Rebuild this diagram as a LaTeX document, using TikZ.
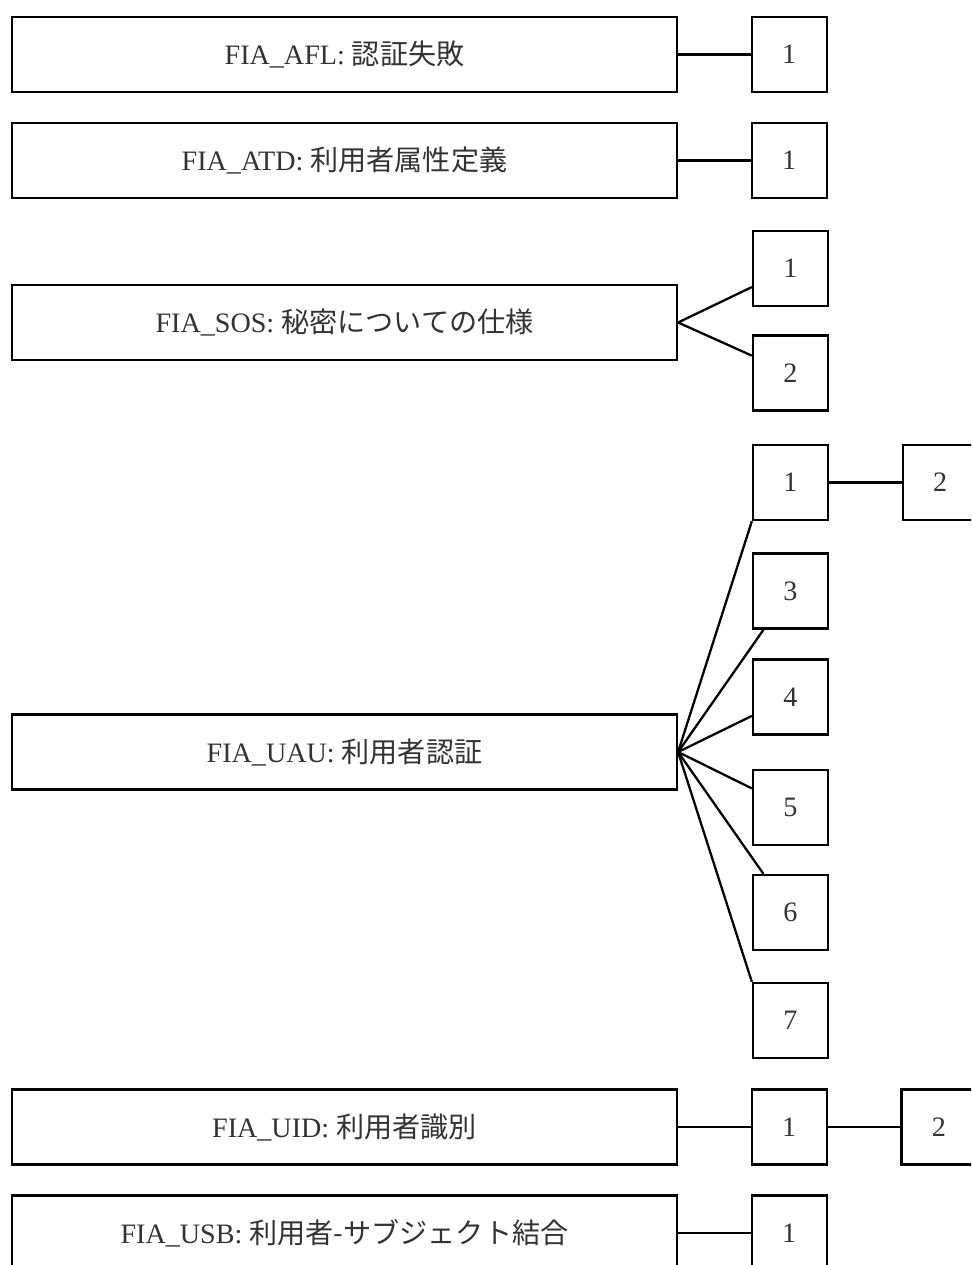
\documentclass[tikz,border=0pt]{standalone}
\usepackage{fontspec}
\setmainfont{Liberation Serif}
\newfontfamily\jp{Noto Sans CJK JP}
\usetikzlibrary{positioning}

\begin{document}
\begin{tikzpicture}[
    x=0.02cm, y=-0.02cm,
    family/.style={draw, line width=1.3pt, minimum width=13.3cm, minimum height=1.5cm,
      inner sep=0pt, text=black!80, font=\fontsize{16}{19}\selectfont},
    comp/.style={draw, line width=1.3pt, minimum width=1.5cm, minimum height=1.5cm,
      inner sep=0pt, text=black!80, font=\fontsize{16}{19}\selectfont},
    link/.style={line width=1.3pt},
    node distance=1.45cm,
  ]
    \fill[white] (0,0) rectangle (971,1265);
    \path[use as bounding box, clip] (0,0) rectangle (971,1265);

    % families
    \node[family] (afl) at (344.5, 54.5) {FIA\_AFL: {\jp 認証失敗}};
    \node[family] (atd) at (344.5, 160.5) {FIA\_ATD: {\jp 利用者属性定義}};
    \node[family] (sos) at (344.5, 322.5) {FIA\_SOS: {\jp 秘密についての仕様}};
    \node[family] (uau) at (344.5, 752) {FIA\_UAU: {\jp 利用者認証}};
    \node[family] (uid) at (344.5, 1127) {FIA\_UID: {\jp 利用者識別}};
    \node[family] (usb) at (344.5, 1233) {FIA\_USB: {\jp 利用者-サブジェクト結合}};

    % components
    \node[comp, right=of afl] (afl1) {1};
    \node[comp, right=of atd] (atd1) {1};
    \node[comp] (sos1) at (790.5, 268.5) {1};
    \node[comp] (sos2) at (790.5, 373) {2};
    \node[comp] (uau1) at (790.5, 482.5) {1};
    \node[comp, right=of uau1] (uau2) {2};
    \node[comp] (uau3) at (790.5, 591) {3};
    \node[comp] (uau4) at (790.5, 697) {4};
    \node[comp] (uau5) at (790.5, 807.5) {5};
    \node[comp] (uau6) at (790.5, 912.5) {6};
    \node[comp] (uau7) at (790.5, 1020.5) {7};
    \node[comp, right=of uid] (uid1) {1};
    \node[comp, right=of uid1] (uid2) {2};
    \node[comp, right=of usb] (usb1) {1};

    \draw[link] (afl) -- (afl1);
    \draw[link] (atd) -- (atd1);
    \draw[link] (sos.east) -- (sos1);
    \draw[link] (sos.east) -- (sos2);
    \draw[link] (uau.east) -- (uau1.south west);
    \foreach \k in {3,...,6}
      \draw[link] (uau.east) -- (uau\k);
    \draw[link] (uau.east) -- (uau7.north west);
    \draw[link] (uau1) -- (uau2);
    \draw[link] (uid) -- (uid1);
    \draw[link] (uid1) -- (uid2);
    \draw[link] (usb) -- (usb1);
  \end{tikzpicture}
\end{document}
